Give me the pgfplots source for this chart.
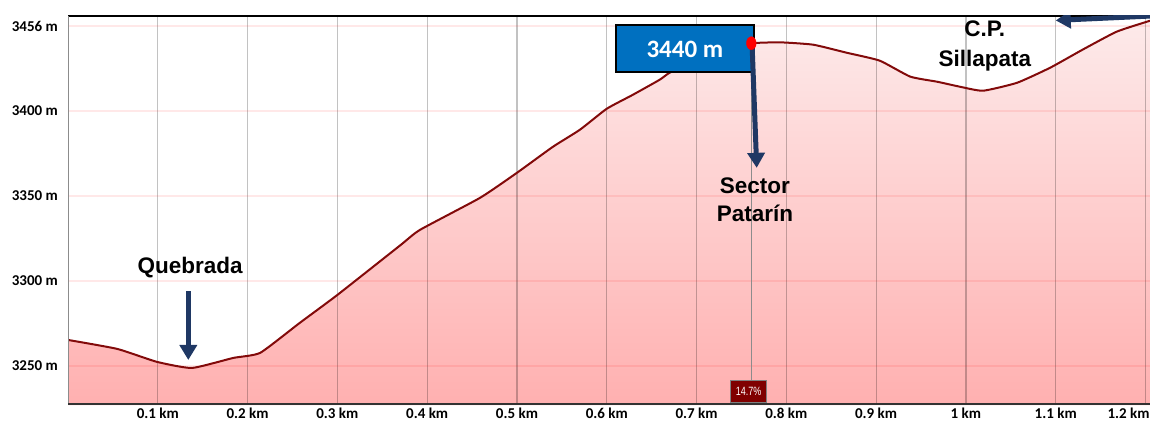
\documentclass[border=0pt]{standalone}
\usepackage{fontspec}
\setmainfont{Carlito}
\newfontfamily\arialf{Liberation Sans}
\usepackage{graphicx}
\usepackage{pgfplots}
\pgfplotsset{compat=1.18}
\usepackage{pgfplotstable}
\usetikzlibrary{arrows.meta}
\definecolor{navy}{RGB}{31,56,100}
\definecolor{curve}{RGB}{130,10,10}
\definecolor{boxblue}{RGB}{0,112,192}
\definecolor{filltop}{RGB}{253,234,234}
\definecolor{fillbot}{RGB}{255,176,176}
\definecolor{gradebox}{RGB}{128,0,0}

\pgfplotstableread{
x y
0.000 3265.3
0.055 3260.0
0.099 3252.4
0.138 3248.8
0.184 3254.7
0.214 3257.7
0.258 3275.3
0.300 3291.8
0.370 3321.0
0.392 3330.1
0.459 3349.0
0.500 3363.7
0.540 3379.0
0.570 3389.0
0.600 3401.4
0.629 3409.6
0.659 3418.5
0.670 3422.6
0.704 3431.4
0.737 3437.9
0.761 3440.0
0.793 3440.5
0.830 3439.1
0.867 3434.4
0.904 3429.7
0.938 3420.3
0.968 3417.3
0.993 3414.4
1.019 3412.0
1.057 3416.7
1.094 3425.6
1.130 3436.2
1.168 3446.8
1.205 3453.2
}\profile

\pgfplotstableread{
x y
0.761 3440
}\marker

\begin{document}
\begin{tikzpicture}
\begin{axis}[
  set layers,
  scale only axis, width=1082bp, height=389bp,
  xmin=0, xmax=1.205, ymin=3227, ymax=3456,
  axis line style={draw=none},
  major tick length=0pt,
  xtick={0.1,0.2,0.3,0.4,0.5,0.6,0.7,0.8,0.9,1.0,1.1,1.2},
  xticklabels={0.1 km,0.2 km,0.3 km,0.4 km,0.5 km,0.6 km,0.7 km,0.8 km,0.9 km,1 km,1.1 km,\makebox[8bp][r]{1.2 km}},
  ytick={3250,3300,3350,3400,3450},
  yticklabels={3250 m,3300 m,3350 m,3400 m,3456 m},
  xmajorgrids, ymajorgrids,
  x grid style={black, opacity=0.24, line width=1.2bp},
  y grid style={red, opacity=0.09, line width=2.5bp},
  xticklabel style={font=\fontsize{15bp}{18bp}\selectfont\bfseries, anchor=north, inner sep=0pt, yshift=-3bp},
  yticklabel style={font=\fontsize{15bp}{18bp}\selectfont\bfseries, anchor=east, inner sep=0pt, xshift=-10bp},
]
% filled area
\addplot[on layer=axis background, draw=none, top color=filltop, bottom color=fillbot, smooth, tension=0.3]
  table[x=x,y=y] {\profile} -- (axis cs:1.205,3227) -- (axis cs:0,3227) -- cycle;
% cursor line
\draw[black!45, line width=0.8bp] (axis cs:0.761,3227) -- (axis cs:0.761,3440);
% profile line
\addplot[curve, line width=2bp, smooth, tension=0.3] table[x=x,y=y] {\profile};

% axis lines
\draw[black, line width=2bp] (rel axis cs:0,1) -- (rel axis cs:1,1);
\draw[black!45, line width=0.8bp] (rel axis cs:0,0) -- (rel axis cs:0,1);
\draw[black!80, line width=4bp] (rel axis cs:0,0) -- (rel axis cs:1,0);

% grade label
\node[fill=gradebox, draw=black!50, line width=0.6bp, text=white, inner sep=2bp,
      minimum width=36bp, minimum height=22bp, font=\arialf\fontsize{12bp}{14bp}\selectfont]
  at (axis cs:0.758,3235.3) {\scalebox{0.75}[1]{14.7\%}};

% 3440 m box
\fill[boxblue, draw=black, line width=2bp] (axis cs:0.610,3450.9) rectangle (axis cs:0.764,3423.2);
\node[text=white, font=\fontsize{25bp}{28bp}\selectfont\bfseries] at (axis cs:0.687,3436.5) {3440 m};

% arrows
\draw[navy, line width=5bp, -{Triangle[width=17bp,length=15bp]}] (axis cs:0.134,3294) -- (axis cs:0.134,3253.5);
\draw[navy, line width=5bp, -{Triangle[width=17bp,length=15bp]}] (axis cs:0.762,3437) -- (axis cs:0.767,3366.6);
\draw[navy, line width=5bp, -{Triangle[width=17bp,length=15bp]}] (axis cs:1.215,3456.2) -- (axis cs:1.100,3453.4);

% marker
\addplot[only marks, mark=*, color=red, mark size=6.5bp, mark options={xscale=0.75, draw=red, fill=red}] table[x=x,y=y] {\marker};

% texts
\node[font=\arialf\fontsize{22.5bp}{27bp}\selectfont\bfseries] at (axis cs:0.136,3307.7) {Quebrada};
\node[font=\arialf\fontsize{22.5bp}{28bp}\selectfont\bfseries, align=center] at (axis cs:0.765,3347.8) {Sector\\Patarín};
\node[font=\arialf\fontsize{22.5bp}{30bp}\selectfont\bfseries, align=center] at (axis cs:1.021,3438.5) {C.P.\\Sillapata};
\end{axis}
\pgfresetboundingbox
\path[use as bounding box] (-68bp,-16bp) rectangle (1082bp,405bp);
\end{tikzpicture}
\end{document}
